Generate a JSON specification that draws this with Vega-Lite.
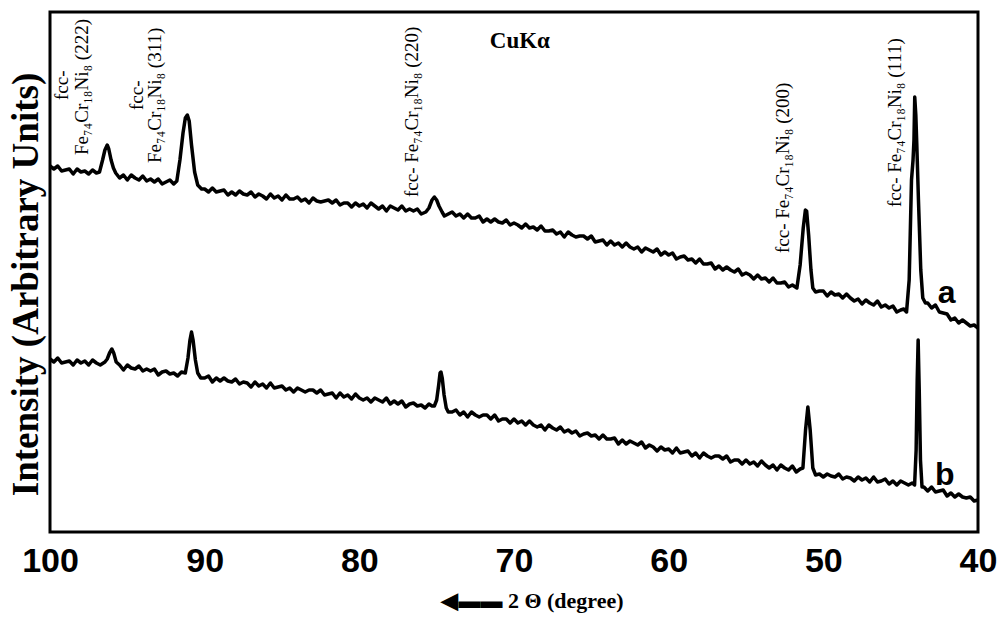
{
  "$schema": "https://vega.github.io/schema/vega-lite/v6.json",
  "width": 928,
  "height": 520,
  "autosize": "none",
  "padding": {"left": 50, "top": 12, "right": 21, "bottom": 86},
  "background": "white",
  "config": {"view": {"stroke": "black", "strokeWidth": 3}},
  "datasets": {
    "curves": [
      {"s":"a","t":100,"i":366},{"s":"a","t":99.75,"i":363},{"s":"a","t":99.5,"i":366},{"s":"a","t":99.25,"i":361},{"s":"a","t":99,"i":362},{"s":"a","t":98.75,"i":363},{"s":"a","t":98.5,"i":358},{"s":"a","t":98.25,"i":363},{"s":"a","t":98,"i":360},{"s":"a","t":97.75,"i":361},{"s":"a","t":97.5,"i":358},{"s":"a","t":97.25,"i":362},{"s":"a","t":97,"i":359},
      {"s":"a","t":96.8,"i":360},{"s":"a","t":96.6,"i":372},{"s":"a","t":96.45,"i":382},{"s":"a","t":96.3,"i":387},{"s":"a","t":96.2,"i":383},{"s":"a","t":96.05,"i":372},{"s":"a","t":95.9,"i":364},{"s":"a","t":95.75,"i":359},
      {"s":"a","t":95.5,"i":354},{"s":"a","t":95.25,"i":357},{"s":"a","t":95,"i":352},{"s":"a","t":94.75,"i":357},{"s":"a","t":94.5,"i":354},{"s":"a","t":94.25,"i":352},{"s":"a","t":94,"i":356},{"s":"a","t":93.75,"i":351},{"s":"a","t":93.5,"i":353},{"s":"a","t":93.25,"i":350},{"s":"a","t":93,"i":353},{"s":"a","t":92.75,"i":348},{"s":"a","t":92.5,"i":350},{"s":"a","t":92.25,"i":352},{"s":"a","t":92,"i":348},
      {"s":"a","t":91.8,"i":351},{"s":"a","t":91.6,"i":372},{"s":"a","t":91.4,"i":399},{"s":"a","t":91.25,"i":414},{"s":"a","t":91.12,"i":417},{"s":"a","t":91,"i":411},{"s":"a","t":90.85,"i":387},{"s":"a","t":90.65,"i":360},{"s":"a","t":90.45,"i":347},{"s":"a","t":90.2,"i":343},
      {"s":"a","t":90,"i":343},{"s":"a","t":89.75,"i":340},{"s":"a","t":89.5,"i":344},{"s":"a","t":89.25,"i":340},{"s":"a","t":89,"i":341},{"s":"a","t":88.75,"i":342},{"s":"a","t":88.5,"i":337},{"s":"a","t":88.25,"i":340},{"s":"a","t":88,"i":337},{"s":"a","t":87.75,"i":341},{"s":"a","t":87.5,"i":338},{"s":"a","t":87.25,"i":337},{"s":"a","t":87,"i":340},{"s":"a","t":86.75,"i":335},{"s":"a","t":86.5,"i":338},{"s":"a","t":86.25,"i":336},{"s":"a","t":86,"i":333},{"s":"a","t":85.75,"i":338},{"s":"a","t":85.5,"i":334},{"s":"a","t":85.25,"i":336},{"s":"a","t":85,"i":332},{"s":"a","t":84.75,"i":337},{"s":"a","t":84.5,"i":333},{"s":"a","t":84.25,"i":333},{"s":"a","t":84,"i":335},{"s":"a","t":83.75,"i":331},{"s":"a","t":83.5,"i":333},{"s":"a","t":83.25,"i":329},{"s":"a","t":83,"i":334},{"s":"a","t":82.75,"i":331},{"s":"a","t":82.5,"i":330},{"s":"a","t":82.25,"i":331},{"s":"a","t":82,"i":332},{"s":"a","t":81.75,"i":329},{"s":"a","t":81.5,"i":332},{"s":"a","t":81.25,"i":327},{"s":"a","t":81,"i":329},{"s":"a","t":80.75,"i":329},{"s":"a","t":80.5,"i":325},{"s":"a","t":80.25,"i":329},{"s":"a","t":80,"i":326},{"s":"a","t":79.75,"i":328},{"s":"a","t":79.5,"i":324},{"s":"a","t":79.25,"i":329},{"s":"a","t":79,"i":326},{"s":"a","t":78.75,"i":323},{"s":"a","t":78.5,"i":326},{"s":"a","t":78.25,"i":321},{"s":"a","t":78,"i":326},{"s":"a","t":77.75,"i":324},{"s":"a","t":77.5,"i":322},{"s":"a","t":77.25,"i":326},{"s":"a","t":77,"i":321},{"s":"a","t":76.75,"i":323},{"s":"a","t":76.5,"i":321},{"s":"a","t":76.25,"i":323},{"s":"a","t":76,"i":318},
      {"s":"a","t":75.7,"i":320},{"s":"a","t":75.5,"i":324},{"s":"a","t":75.3,"i":332},{"s":"a","t":75.15,"i":335},{"s":"a","t":75,"i":332},{"s":"a","t":74.85,"i":326},{"s":"a","t":74.65,"i":320},
      {"s":"a","t":74.5,"i":316},{"s":"a","t":74.25,"i":318},{"s":"a","t":74,"i":320},{"s":"a","t":73.75,"i":316},{"s":"a","t":73.5,"i":318},{"s":"a","t":73.25,"i":314},{"s":"a","t":73,"i":318},{"s":"a","t":72.75,"i":314},{"s":"a","t":72.5,"i":314},{"s":"a","t":72.25,"i":316},{"s":"a","t":72,"i":310},{"s":"a","t":71.75,"i":313},{"s":"a","t":71.5,"i":310},{"s":"a","t":71.25,"i":313},{"s":"a","t":71,"i":310},{"s":"a","t":70.75,"i":309},{"s":"a","t":70.5,"i":312},{"s":"a","t":70.25,"i":307},{"s":"a","t":70,"i":309},{"s":"a","t":69.75,"i":307},{"s":"a","t":69.5,"i":304},{"s":"a","t":69.25,"i":308},{"s":"a","t":69,"i":304},{"s":"a","t":68.75,"i":305},{"s":"a","t":68.5,"i":302},{"s":"a","t":68.25,"i":306},{"s":"a","t":68,"i":301},{"s":"a","t":67.75,"i":301},{"s":"a","t":67.5,"i":302},{"s":"a","t":67.25,"i":298},{"s":"a","t":67,"i":300},{"s":"a","t":66.75,"i":295},{"s":"a","t":66.5,"i":300},{"s":"a","t":66.25,"i":297},{"s":"a","t":66,"i":295},{"s":"a","t":65.75,"i":296},{"s":"a","t":65.5,"i":296},{"s":"a","t":65.25,"i":293},{"s":"a","t":65,"i":296},{"s":"a","t":64.75,"i":290},{"s":"a","t":64.5,"i":291},{"s":"a","t":64.25,"i":292},{"s":"a","t":64,"i":287},{"s":"a","t":63.75,"i":291},{"s":"a","t":63.5,"i":287},{"s":"a","t":63.25,"i":289},{"s":"a","t":63,"i":285},{"s":"a","t":62.75,"i":289},{"s":"a","t":62.5,"i":285},{"s":"a","t":62.25,"i":283},{"s":"a","t":62,"i":285},{"s":"a","t":61.75,"i":280},{"s":"a","t":61.5,"i":284},{"s":"a","t":61.25,"i":282},{"s":"a","t":61,"i":280},{"s":"a","t":60.75,"i":283},{"s":"a","t":60.5,"i":277},{"s":"a","t":60.25,"i":280},{"s":"a","t":60,"i":277},{"s":"a","t":59.75,"i":279},{"s":"a","t":59.5,"i":273},{"s":"a","t":59.25,"i":275},{"s":"a","t":59,"i":276},{"s":"a","t":58.75,"i":272},{"s":"a","t":58.5,"i":273},{"s":"a","t":58.25,"i":269},{"s":"a","t":58,"i":273},{"s":"a","t":57.75,"i":268},{"s":"a","t":57.5,"i":268},{"s":"a","t":57.25,"i":269},{"s":"a","t":57,"i":263},{"s":"a","t":56.75,"i":266},{"s":"a","t":56.5,"i":262},{"s":"a","t":56.25,"i":265},{"s":"a","t":56,"i":262},{"s":"a","t":55.75,"i":260},{"s":"a","t":55.5,"i":263},{"s":"a","t":55.25,"i":257},{"s":"a","t":55,"i":259},{"s":"a","t":54.75,"i":257},{"s":"a","t":54.5,"i":253},{"s":"a","t":54.25,"i":257},{"s":"a","t":54,"i":253},{"s":"a","t":53.75,"i":254},{"s":"a","t":53.5,"i":250},{"s":"a","t":53.25,"i":254},{"s":"a","t":53,"i":249},{"s":"a","t":52.75,"i":249},{"s":"a","t":52.5,"i":250},{"s":"a","t":52.25,"i":245},{"s":"a","t":52,"i":247},
      {"s":"a","t":51.71,"i":244},{"s":"a","t":51.5,"i":267},{"s":"a","t":51.3,"i":304},{"s":"a","t":51.16,"i":322},{"s":"a","t":51.08,"i":321},{"s":"a","t":50.95,"i":297},{"s":"a","t":50.8,"i":262},{"s":"a","t":50.68,"i":244},
      {"s":"a","t":50.5,"i":240},{"s":"a","t":50.25,"i":241},{"s":"a","t":50,"i":241},{"s":"a","t":49.75,"i":236},{"s":"a","t":49.5,"i":240},{"s":"a","t":49.25,"i":237},{"s":"a","t":49,"i":238},{"s":"a","t":48.75,"i":234},{"s":"a","t":48.5,"i":238},{"s":"a","t":48.25,"i":234},{"s":"a","t":48,"i":231},{"s":"a","t":47.75,"i":233},{"s":"a","t":47.5,"i":228},{"s":"a","t":47.25,"i":232},{"s":"a","t":47,"i":229},{"s":"a","t":46.75,"i":227},{"s":"a","t":46.5,"i":231},{"s":"a","t":46.25,"i":225},{"s":"a","t":46,"i":227},{"s":"a","t":45.75,"i":224},{"s":"a","t":45.5,"i":226},{"s":"a","t":45.25,"i":220},{"s":"a","t":45,"i":222},{"s":"a","t":44.8,"i":223},
      {"s":"a","t":44.62,"i":220},{"s":"a","t":44.45,"i":252},{"s":"a","t":44.3,"i":352},{"s":"a","t":44.2,"i":372},{"s":"a","t":44.14,"i":392},{"s":"a","t":44.09,"i":435},{"s":"a","t":44.02,"i":417},{"s":"a","t":43.96,"i":389},{"s":"a","t":43.85,"i":332},{"s":"a","t":43.7,"i":262},{"s":"a","t":43.57,"i":234},
      {"s":"a","t":43.4,"i":229},{"s":"a","t":43.25,"i":229},{"s":"a","t":43,"i":224},{"s":"a","t":42.75,"i":227},{"s":"a","t":42.5,"i":220},{"s":"a","t":42.25,"i":219},{"s":"a","t":42,"i":218},{"s":"a","t":41.75,"i":212},{"s":"a","t":41.5,"i":214},{"s":"a","t":41.25,"i":209},{"s":"a","t":41,"i":212},{"s":"a","t":40.75,"i":209},{"s":"a","t":40.5,"i":206},{"s":"a","t":40.25,"i":207},{"s":"a","t":40,"i":204},
      {"s":"b","t":100,"i":173},{"s":"b","t":99.75,"i":170},{"s":"b","t":99.5,"i":174},{"s":"b","t":99.25,"i":169},{"s":"b","t":99,"i":170},{"s":"b","t":98.75,"i":171},{"s":"b","t":98.5,"i":167},{"s":"b","t":98.25,"i":172},{"s":"b","t":98,"i":169},{"s":"b","t":97.75,"i":171},{"s":"b","t":97.5,"i":167},{"s":"b","t":97.25,"i":172},{"s":"b","t":97,"i":169},{"s":"b","t":96.75,"i":167},
      {"s":"b","t":96.45,"i":170},{"s":"b","t":96.3,"i":173},{"s":"b","t":96.15,"i":179},{"s":"b","t":96,"i":183},{"s":"b","t":95.88,"i":179},{"s":"b","t":95.72,"i":170},
      {"s":"b","t":95.5,"i":167},{"s":"b","t":95.25,"i":162},{"s":"b","t":95,"i":167},{"s":"b","t":94.75,"i":164},{"s":"b","t":94.5,"i":163},{"s":"b","t":94.25,"i":166},{"s":"b","t":94,"i":161},{"s":"b","t":93.75,"i":163},{"s":"b","t":93.5,"i":161},{"s":"b","t":93.25,"i":163},{"s":"b","t":93,"i":157},{"s":"b","t":92.75,"i":160},{"s":"b","t":92.5,"i":161},{"s":"b","t":92.25,"i":158},{"s":"b","t":92,"i":159},{"s":"b","t":91.75,"i":156},{"s":"b","t":91.5,"i":160},
      {"s":"b","t":91.25,"i":159},{"s":"b","t":91.08,"i":174},{"s":"b","t":90.95,"i":192},{"s":"b","t":90.85,"i":200},{"s":"b","t":90.75,"i":192},{"s":"b","t":90.6,"i":172},{"s":"b","t":90.45,"i":159},
      {"s":"b","t":90.25,"i":154},{"s":"b","t":90,"i":154},{"s":"b","t":89.75,"i":156},{"s":"b","t":89.5,"i":150},{"s":"b","t":89.25,"i":154},{"s":"b","t":89,"i":151},{"s":"b","t":88.75,"i":154},{"s":"b","t":88.5,"i":151},{"s":"b","t":88.25,"i":150},{"s":"b","t":88,"i":153},{"s":"b","t":87.75,"i":148},{"s":"b","t":87.5,"i":150},{"s":"b","t":87.25,"i":149},{"s":"b","t":87,"i":145},{"s":"b","t":86.75,"i":150},{"s":"b","t":86.5,"i":146},{"s":"b","t":86.25,"i":148},{"s":"b","t":86,"i":144},{"s":"b","t":85.75,"i":149},{"s":"b","t":85.5,"i":144},{"s":"b","t":85.25,"i":145},{"s":"b","t":85,"i":146},{"s":"b","t":84.75,"i":142},{"s":"b","t":84.5,"i":144},{"s":"b","t":84.25,"i":140},{"s":"b","t":84,"i":144},{"s":"b","t":83.75,"i":142},{"s":"b","t":83.5,"i":140},{"s":"b","t":83.25,"i":142},{"s":"b","t":83,"i":142},{"s":"b","t":82.75,"i":139},{"s":"b","t":82.5,"i":142},{"s":"b","t":82.25,"i":137},{"s":"b","t":82,"i":138},{"s":"b","t":81.75,"i":139},{"s":"b","t":81.5,"i":134},{"s":"b","t":81.25,"i":139},{"s":"b","t":81,"i":135},{"s":"b","t":80.75,"i":137},{"s":"b","t":80.5,"i":133},{"s":"b","t":80.25,"i":138},{"s":"b","t":80,"i":134},{"s":"b","t":79.75,"i":132},{"s":"b","t":79.5,"i":134},{"s":"b","t":79.25,"i":130},{"s":"b","t":79,"i":134},{"s":"b","t":78.75,"i":132},{"s":"b","t":78.5,"i":130},{"s":"b","t":78.25,"i":134},{"s":"b","t":78,"i":128},{"s":"b","t":77.75,"i":131},{"s":"b","t":77.5,"i":128},{"s":"b","t":77.25,"i":131},{"s":"b","t":77,"i":125},{"s":"b","t":76.75,"i":128},{"s":"b","t":76.5,"i":129},{"s":"b","t":76.25,"i":126},{"s":"b","t":76,"i":127},{"s":"b","t":75.75,"i":124},{"s":"b","t":75.5,"i":128},
      {"s":"b","t":75.3,"i":126},{"s":"b","t":75.15,"i":126},{"s":"b","t":75,"i":132},{"s":"b","t":74.87,"i":147},{"s":"b","t":74.78,"i":159},{"s":"b","t":74.72,"i":160},{"s":"b","t":74.64,"i":154},{"s":"b","t":74.52,"i":137},{"s":"b","t":74.38,"i":124},
      {"s":"b","t":74.25,"i":120},{"s":"b","t":74,"i":120},{"s":"b","t":73.75,"i":122},{"s":"b","t":73.5,"i":117},{"s":"b","t":73.25,"i":120},{"s":"b","t":73,"i":115},{"s":"b","t":72.75,"i":120},{"s":"b","t":72.5,"i":117},{"s":"b","t":72.25,"i":115},{"s":"b","t":72,"i":117},{"s":"b","t":71.75,"i":117},{"s":"b","t":71.5,"i":113},{"s":"b","t":71.25,"i":117},{"s":"b","t":71,"i":111},{"s":"b","t":70.75,"i":113},{"s":"b","t":70.5,"i":113},{"s":"b","t":70.25,"i":109},{"s":"b","t":70,"i":113},{"s":"b","t":69.75,"i":109},{"s":"b","t":69.5,"i":111},{"s":"b","t":69.25,"i":107},{"s":"b","t":69,"i":111},{"s":"b","t":68.75,"i":107},{"s":"b","t":68.5,"i":105},{"s":"b","t":68.25,"i":107},{"s":"b","t":68,"i":102},{"s":"b","t":67.75,"i":107},{"s":"b","t":67.5,"i":104},{"s":"b","t":67.25,"i":102},{"s":"b","t":67,"i":105},{"s":"b","t":66.75,"i":100},{"s":"b","t":66.5,"i":102},{"s":"b","t":66.25,"i":99},{"s":"b","t":66,"i":101},{"s":"b","t":65.75,"i":96},{"s":"b","t":65.5,"i":98},{"s":"b","t":65.25,"i":99},{"s":"b","t":65,"i":96},{"s":"b","t":64.75,"i":97},{"s":"b","t":64.5,"i":93},{"s":"b","t":64.25,"i":97},{"s":"b","t":64,"i":93},{"s":"b","t":63.75,"i":93},{"s":"b","t":63.5,"i":94},{"s":"b","t":63.25,"i":88},{"s":"b","t":63,"i":92},{"s":"b","t":62.75,"i":88},{"s":"b","t":62.5,"i":91},{"s":"b","t":62.25,"i":89},{"s":"b","t":62,"i":87},{"s":"b","t":61.75,"i":90},{"s":"b","t":61.5,"i":84},{"s":"b","t":61.25,"i":87},{"s":"b","t":61,"i":85},{"s":"b","t":60.75,"i":81},{"s":"b","t":60.5,"i":85},{"s":"b","t":60.25,"i":82},{"s":"b","t":60,"i":83},{"s":"b","t":59.75,"i":79},{"s":"b","t":59.5,"i":84},{"s":"b","t":59.25,"i":79},{"s":"b","t":59,"i":80},{"s":"b","t":58.75,"i":81},{"s":"b","t":58.5,"i":76},{"s":"b","t":58.25,"i":79},{"s":"b","t":58,"i":74},{"s":"b","t":57.75,"i":79},{"s":"b","t":57.5,"i":76},{"s":"b","t":57.25,"i":74},{"s":"b","t":57,"i":76},{"s":"b","t":56.75,"i":76},{"s":"b","t":56.5,"i":73},{"s":"b","t":56.25,"i":76},{"s":"b","t":56,"i":70},{"s":"b","t":55.75,"i":72},{"s":"b","t":55.5,"i":72},{"s":"b","t":55.25,"i":68},{"s":"b","t":55,"i":72},{"s":"b","t":54.75,"i":68},{"s":"b","t":54.5,"i":70},{"s":"b","t":54.25,"i":66},{"s":"b","t":54,"i":71},{"s":"b","t":53.75,"i":67},{"s":"b","t":53.5,"i":64},{"s":"b","t":53.25,"i":67},{"s":"b","t":53,"i":62},{"s":"b","t":52.75,"i":67},{"s":"b","t":52.5,"i":64},{"s":"b","t":52.25,"i":62},{"s":"b","t":52,"i":66},{"s":"b","t":51.75,"i":60},{"s":"b","t":51.5,"i":63},
      {"s":"b","t":51.32,"i":64},{"s":"b","t":51.15,"i":102},{"s":"b","t":51,"i":125},{"s":"b","t":50.85,"i":102},{"s":"b","t":50.68,"i":64},
      {"s":"b","t":50.5,"i":57},{"s":"b","t":50.25,"i":58},{"s":"b","t":50,"i":55},{"s":"b","t":49.75,"i":58},{"s":"b","t":49.5,"i":56},{"s":"b","t":49.25,"i":55},{"s":"b","t":49,"i":58},{"s":"b","t":48.75,"i":53},{"s":"b","t":48.5,"i":55},{"s":"b","t":48.25,"i":54},{"s":"b","t":48,"i":51},{"s":"b","t":47.75,"i":55},{"s":"b","t":47.5,"i":52},{"s":"b","t":47.25,"i":54},{"s":"b","t":47,"i":50},{"s":"b","t":46.75,"i":55},{"s":"b","t":46.5,"i":50},{"s":"b","t":46.25,"i":51},{"s":"b","t":46,"i":53},{"s":"b","t":45.75,"i":48},{"s":"b","t":45.5,"i":51},{"s":"b","t":45.25,"i":47},{"s":"b","t":45,"i":51},{"s":"b","t":44.75,"i":49},{"s":"b","t":44.5,"i":47},{"s":"b","t":44.25,"i":49},
      {"s":"b","t":44.1,"i":47},{"s":"b","t":44,"i":82},{"s":"b","t":43.93,"i":152},{"s":"b","t":43.87,"i":192},{"s":"b","t":43.8,"i":142},{"s":"b","t":43.72,"i":72},{"s":"b","t":43.62,"i":45},
      {"s":"b","t":43.5,"i":45},{"s":"b","t":43.25,"i":41},{"s":"b","t":43,"i":45},{"s":"b","t":42.75,"i":40},{"s":"b","t":42.5,"i":41},{"s":"b","t":42.25,"i":42},{"s":"b","t":42,"i":36},{"s":"b","t":41.75,"i":39},{"s":"b","t":41.5,"i":35},{"s":"b","t":41.25,"i":38},{"s":"b","t":41,"i":35},{"s":"b","t":40.75,"i":34},{"s":"b","t":40.5,"i":35},{"s":"b","t":40.25,"i":31},{"s":"b","t":40,"i":32}
    ],
    "peaks": [
      {"t":99.22,"i":432,"label":"fcc-"},
      {"t":97.93,"i":377,"label":"Fe₇₄Cr₁₈Ni₈ (222)"},
      {"t":94.38,"i":422,"label":"fcc-"},
      {"t":93.21,"i":369,"label":"Fe₇₄Cr₁₈Ni₈ (311)"},
      {"t":76.6,"i":335,"label":"fcc- Fe₇₄Cr₁₈Ni₈ (220)"},
      {"t":52.62,"i":279,"label":"fcc- Fe₇₄Cr₁₈Ni₈ (200)"},
      {"t":45.38,"i":325,"label":"fcc- Fe₇₄Cr₁₈Ni₈ (111)"}
    ],
    "tags": [
      {"t":42.02,"i":239,"label":"a"},
      {"t":42.15,"i":57,"label":"b"}
    ],
    "radiation": [
      {"t":69.62,"i":491,"label":"CuKα"}
    ],
    "majorTicks": [{"t":40},{"t":50},{"t":60},{"t":70},{"t":80},{"t":90},{"t":100}],
    "minorTicks": [{"t":42},{"t":44},{"t":46},{"t":48},{"t":52},{"t":54},{"t":56},{"t":58},{"t":62},{"t":64},{"t":66},{"t":68},{"t":72},{"t":74},{"t":76},{"t":78},{"t":82},{"t":84},{"t":86},{"t":88},{"t":92},{"t":94},{"t":96},{"t":98}]
  },
  "encoding": {
    "x": {
      "field": "t", "type": "quantitative",
      "scale": {"domain": [40, 100], "reverse": true, "nice": false, "zero": false},
      "axis": {
        "orient": "bottom",
        "values": [40,50,60,70,80,90,100],
        "ticks": false,
        "domain": false, "grid": false,
        "labelFont": "Liberation Sans", "labelFontWeight": "bold", "labelFontSize": 34, "labelColor": "black",
        "labelPadding": 12, "labelFlush": false, "labelOverlap": false,
        "title": "◀▬▬ 2 Θ (degree)",
        "titleFont": "Liberation Serif", "titleFontWeight": "bold", "titleFontSize": 22, "titleColor": "black",
        "titleBaseline": "alphabetic", "titleY": 75, "titleX": 482
      }
    },
    "y": {
      "field": "i", "type": "quantitative",
      "scale": {"domain": [0, 520], "nice": false, "zero": false},
      "axis": {
        "title": "Intensity (Arbitrary Units)",
        "ticks": false, "labels": false, "domain": false, "grid": false,
        "titleFont": "Liberation Serif", "titleFontWeight": "bold", "titleFontSize": 37, "titleColor": "black",
        "titleBaseline": "alphabetic", "titlePadding": 13, "titleY": 272
      }
    }
  },
  "layer": [
    {
      "data": {"name": "curves"},
      "mark": {"type": "line", "color": "black", "strokeWidth": 3.5, "strokeJoin": "round"},
      "encoding": {
        "detail": {"field": "s", "type": "nominal"}
      }
    },
    {
      "data": {"name": "majorTicks"},
      "mark": {"type": "rule", "color": "black", "strokeWidth": 2},
      "encoding": {
        "y": {"datum": 0, "type": "quantitative"},
        "y2": {"datum": 27}
      }
    },
    {
      "data": {"name": "minorTicks"},
      "mark": {"type": "rule", "color": "black", "strokeWidth": 2},
      "encoding": {
        "y": {"datum": 0, "type": "quantitative"},
        "y2": {"datum": 16}
      }
    },
    {
      "data": {"name": "majorTicks"},
      "mark": {"type": "rule", "color": "black", "strokeWidth": 2},
      "encoding": {
        "y": {"datum": 520, "type": "quantitative"},
        "y2": {"datum": 502}
      }
    },
    {
      "data": {"name": "minorTicks"},
      "mark": {"type": "rule", "color": "black", "strokeWidth": 2},
      "encoding": {
        "y": {"datum": 520, "type": "quantitative"},
        "y2": {"datum": 508}
      }
    },
    {
      "data": {"name": "peaks"},
      "mark": {"type": "text", "angle": 270, "align": "left", "baseline": "middle", "font": "Liberation Serif", "fontSize": 19, "color": "black"},
      "encoding": {
        "text": {"field": "label"}
      }
    },
    {
      "data": {"name": "tags"},
      "mark": {"type": "text", "align": "center", "baseline": "middle", "font": "Liberation Sans", "fontWeight": "bold", "fontSize": 32, "color": "black"},
      "encoding": {
        "text": {"field": "label"}
      }
    },
    {
      "data": {"name": "radiation"},
      "mark": {"type": "text", "align": "center", "baseline": "middle", "font": "Liberation Serif", "fontWeight": "bold", "fontSize": 23, "color": "black"},
      "encoding": {
        "text": {"field": "label"}
      }
    }
  ]
}
